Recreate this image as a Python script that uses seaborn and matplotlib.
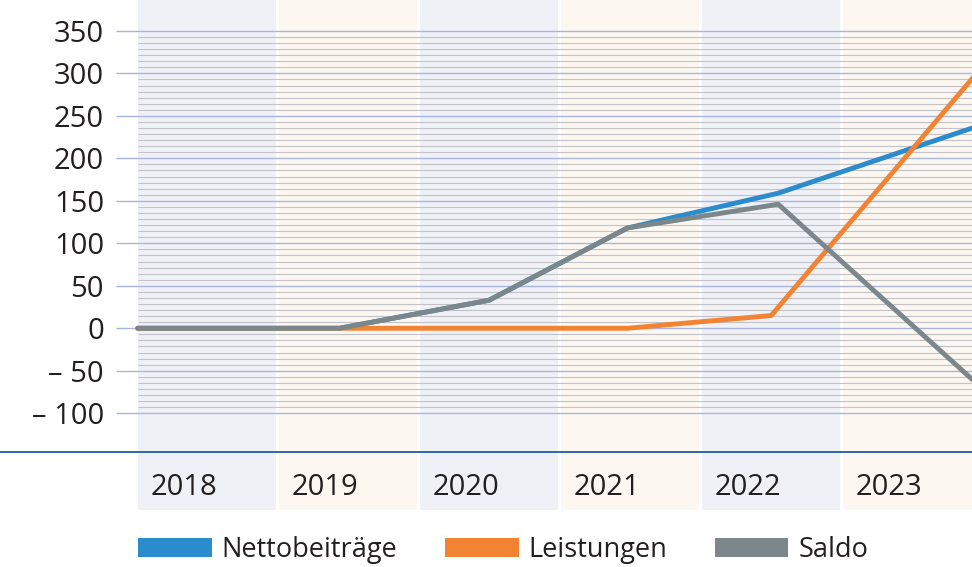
import numpy as np
import pandas as pd
import matplotlib
matplotlib.use("Agg")
import matplotlib.pyplot as plt
from matplotlib.patches import Patch
import seaborn as sns

# Daten
jahre = [2018, 2019, 2020, 2021, 2022, 2023]
jahr_labels = ["2018", "2019", "2020", "2021", "2022", "2023"]

x_netto = [2018.0, 2019.43, 2020.49, 2021.47, 2022.54, 2023.92]
netto = [0, 0, 33, 118, 159, 236]

x_leistungen = [2018.0, 2019.43, 2020.49, 2021.47, 2022.49, 2023.92]
leistungen = [0, 0, 0, 0, 15, 295]

x_saldo = [2018.0, 2019.43, 2020.49, 2021.47, 2022.54, 2023.92]
saldo = [0, 0, 33, 118, 146, -61]

serien = ["Nettobeiträge", "Leistungen", "Saldo"]
farben = ["#2a8bcd", "#f18332", "#7c878b"]

y_ticks = [350, 300, 250, 200, 150, 100, 50, 0, -50, -100]
y_labels = ["350", "300", "250", "200", "150", "100", "50", "0", "\u2013 50", "\u2013 100"]

sns.set_theme(style="white")
plt.rcParams['font.family'] = ['Open Sans', 'DejaVu Sans']
textfarbe = "#231f20"

fig = plt.figure(figsize=(9.72, 5.67), dpi=100)
ax = fig.add_axes([116 / 972, 57 / 567, 1 - 116 / 972, 510 / 567])
x_links, x_rechts = 2017.846, 2023.913
ax.set_xlim(x_links, x_rechts)
ax.set_ylim(-213.9, 386.4)

# Spalten-Hintergrund je Jahr
for i, j in enumerate(jahre):
    ax.axvspan(j, j + 0.978, color="#eff1f7" if i % 2 == 0 else "#fcf7f0", lw=0, zorder=0)

# feine Schraffur + Hauptgitter
fein = np.arange(-100, 350.01, 50 / 7)
fein = [v for v in fein if abs(v / 50 - round(v / 50)) > 1e-6]
ax.hlines(fein, 2018.0, x_rechts, color="#c3c3c7", lw=0.8, zorder=1)
ax.hlines(y_ticks, x_links, x_rechts, color="#a9b5dc", lw=1.0, zorder=1)

# blaue Trennlinie über die ganze Breite
ax.axhline(-146, xmin=-116 / (972 - 116), xmax=1, color="#1d5ca6", lw=1.3, clip_on=False, zorder=2)

df = pd.concat([
    pd.DataFrame({"jahr": x_netto, "wert": netto, "serie": serien[0]}),
    pd.DataFrame({"jahr": x_leistungen, "wert": leistungen, "serie": serien[1]}),
    pd.DataFrame({"jahr": x_saldo, "wert": saldo, "serie": serien[2]}),
], ignore_index=True)

sns.lineplot(data=df, x="jahr", y="wert", hue="serie", hue_order=serien, palette=farben,
             sort=False, estimator=None, lw=3.5, ax=ax, legend=False, zorder=3)

ax.set_yticks(y_ticks, y_labels)
ax.set_xticks([])
ax.set_xlabel("")
ax.set_ylabel("")
ax.tick_params(axis="y", length=0, pad=8.6, labelsize=21, colors=textfarbe)
for s in ax.spines.values():
    s.set_visible(False)

for j, lab in zip(jahre, jahr_labels):
    ax.text(j + 0.088, -187, lab, ha="left", va="center", fontsize=21, color=textfarbe)

handles = [Patch(facecolor=c, edgecolor="none", label=s) for s, c in zip(serien, farben)]
fig.legend(handles=handles, loc="center left", bbox_to_anchor=(138 / 972, 17 / 567), ncol=3,
           frameon=False, fontsize=19.5, handlelength=2.72, handleheight=0.66, handletextpad=0.37,
           columnspacing=1.75, borderpad=0, borderaxespad=0, labelcolor=textfarbe)

fig.savefig("out.png", dpi=100)
